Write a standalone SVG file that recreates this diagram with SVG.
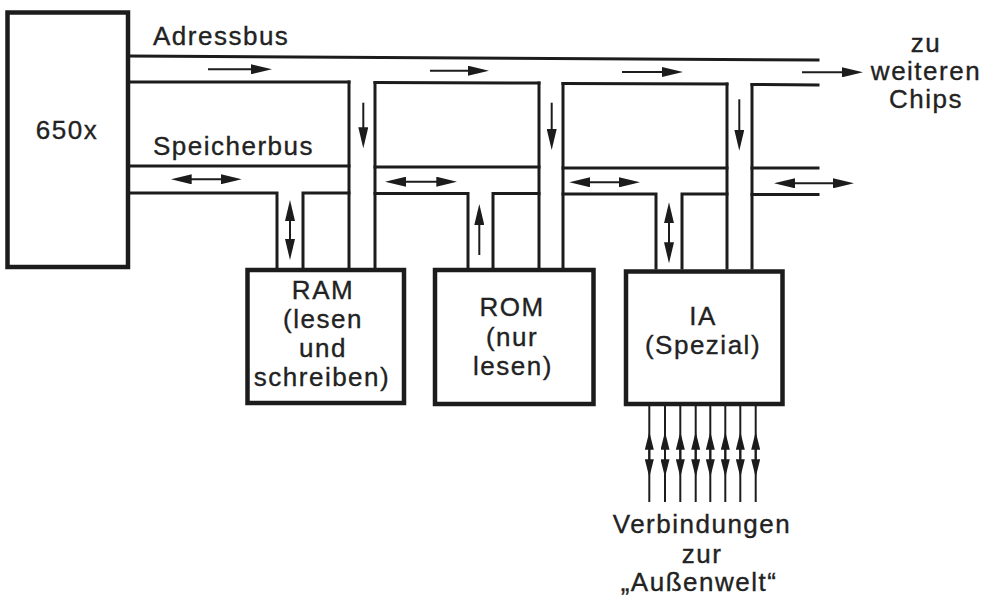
<svg xmlns="http://www.w3.org/2000/svg" width="988" height="599" viewBox="0 0 988 599">
<style>
text{font-family:"Liberation Sans",Arial,sans-serif;font-size:26px;fill:#222;stroke:#222;stroke-width:0.35;letter-spacing:1.5px;text-anchor:middle}
.lbl{text-anchor:start}
.box{fill:#fff;stroke:#1c1c1c;stroke-width:4.5}
.bus{stroke:#1c1c1c;stroke-width:3;fill:none;stroke-linecap:square}
.arr{stroke:#1c1c1c;stroke-width:2;fill:none}
.one{marker-end:url(#ah)}
.two{marker-start:url(#ah);marker-end:url(#ah)}
.sm{marker-end:url(#sh)}
</style>
<defs>
<marker id="ah" viewBox="0 0 21 10" markerUnits="userSpaceOnUse" markerWidth="21" markerHeight="10" refX="14" refY="5" orient="auto-start-reverse">
<path d="M0,0 L21,5 L0,10 Z" fill="#1c1c1c"/>
</marker>
<marker id="sh" viewBox="0 0 18 9" markerUnits="userSpaceOnUse" markerWidth="18" markerHeight="9" refX="12" refY="4.5" orient="auto">
<path d="M0,0 L18,4.5 L0,9 Z" fill="#1c1c1c"/>
</marker>
</defs>
<rect width="988" height="599" fill="#fff"/>

<g id="connectors">
<!-- Adressbus -->
<path class="bus" d="M128,56 L818,60"/>
<path class="bus" d="M128,82 L349,82 M375,82.5 L539,83 M563,83.5 L727,84 M752,84.5 L818,85"/>
<!-- address branches -->
<path class="bus" d="M349,82 L349,268 M375,82.5 L375,268"/>
<path class="bus" d="M539,83 L539,268 M563,83.5 L563,268"/>
<path class="bus" d="M727,84 L727,268 M752,84.5 L752,268"/>
<!-- Speicherbus -->
<path class="bus" d="M128,166 L349,166 M375,167 L539,167 M563,168 L727,168 M752,168 L818,168"/>
<path class="bus" d="M128,193 L277,193 L277,268 M303,268 L303,193 L349,193"/>
<path class="bus" d="M375,193.5 L468,193.5 L468,268 M493,268 L493,193.5 L539,193.5"/>
<path class="bus" d="M563,194 L656,194 L656,268 M682,268 L682,194 L727,194"/>
<path class="bus" d="M752,194.5 L818,194.5"/>
<!-- address arrows -->
<line class="arr one" x1="208" y1="69.3" x2="265" y2="69.3"/>
<line class="arr one" x1="430" y1="70.7" x2="482" y2="70.7"/>
<line class="arr one" x1="622" y1="72" x2="676" y2="72"/>
<line class="arr one" x1="802" y1="72.3" x2="856" y2="72.3"/>
<line class="arr one" x1="363.3" y1="102.7" x2="363.3" y2="141.3"/>
<line class="arr one" x1="551.7" y1="102.7" x2="551.7" y2="143"/>
<line class="arr one" x1="739.3" y1="99.3" x2="739.3" y2="143.7"/>
<!-- data arrows -->
<line class="arr two" x1="177.7" y1="179.3" x2="234.7" y2="179.3"/>
<line class="arr two" x1="392" y1="181.7" x2="450.3" y2="181.7"/>
<line class="arr two" x1="576.3" y1="182.3" x2="633" y2="182.3"/>
<line class="arr two" x1="781" y1="183.3" x2="847" y2="183.3"/>
<line class="arr two" x1="290" y1="207" x2="290" y2="253"/>
<line class="arr one" x1="479.3" y1="255" x2="479.3" y2="211"/>
<line class="arr two" x1="669" y1="209.3" x2="669" y2="256.3"/>
<!-- external I/O arrows -->
<g>
<line class="arr sm" x1="649.3" y1="502" x2="649.3" y2="437.7"/><line class="arr sm" x1="649.3" y1="405" x2="649.3" y2="471.3"/>
<line class="arr sm" x1="665" y1="502" x2="665" y2="437.7"/><line class="arr sm" x1="665" y1="405" x2="665" y2="471.3"/>
<line class="arr sm" x1="680.3" y1="502" x2="680.3" y2="437.7"/><line class="arr sm" x1="680.3" y1="405" x2="680.3" y2="471.3"/>
<line class="arr sm" x1="695.7" y1="502" x2="695.7" y2="437.7"/><line class="arr sm" x1="695.7" y1="405" x2="695.7" y2="471.3"/>
<line class="arr sm" x1="710.3" y1="502" x2="710.3" y2="437.7"/><line class="arr sm" x1="710.3" y1="405" x2="710.3" y2="471.3"/>
<line class="arr sm" x1="725.3" y1="502" x2="725.3" y2="437.7"/><line class="arr sm" x1="725.3" y1="405" x2="725.3" y2="471.3"/>
<line class="arr sm" x1="740.3" y1="502" x2="740.3" y2="437.7"/><line class="arr sm" x1="740.3" y1="405" x2="740.3" y2="471.3"/>
<line class="arr sm" x1="755.7" y1="502" x2="755.7" y2="437.7"/><line class="arr sm" x1="755.7" y1="405" x2="755.7" y2="471.3"/>
</g>
</g>

<g id="cpu">
<rect class="box" x="7.5" y="12.5" width="120.5" height="254.5"/>
<text x="67" y="139">650x</text>
</g>
<g id="ram">
<rect class="box" x="247.5" y="270" width="156.5" height="133"/>
<text x="323" y="299">RAM</text>
<text x="323" y="328">(lesen</text>
<text x="323" y="357">und</text>
<text x="322" y="386">schreiben)</text>
</g>
<g id="rom">
<rect class="box" x="435" y="270" width="158.5" height="134"/>
<text x="512" y="316">ROM</text>
<text x="512" y="346">(nur</text>
<text x="513" y="375">lesen)</text>
</g>
<g id="ia">
<rect class="box" x="626" y="271.5" width="156.5" height="132.5"/>
<text x="703" y="325">IA</text>
<text x="703" y="354">(Spezial)</text>
</g>
<g id="labels">
<text class="lbl" x="153" y="45">Adressbus</text>
<text class="lbl" x="153" y="155">Speicherbus</text>
<text x="926" y="52">zu</text>
<text x="926" y="80">weiteren</text>
<text x="926" y="108">Chips</text>
<text x="702" y="533">Verbindungen</text>
<text x="702" y="563">zur</text>
<text x="699" y="591">„Außenwelt“</text>
</g>
</svg>
